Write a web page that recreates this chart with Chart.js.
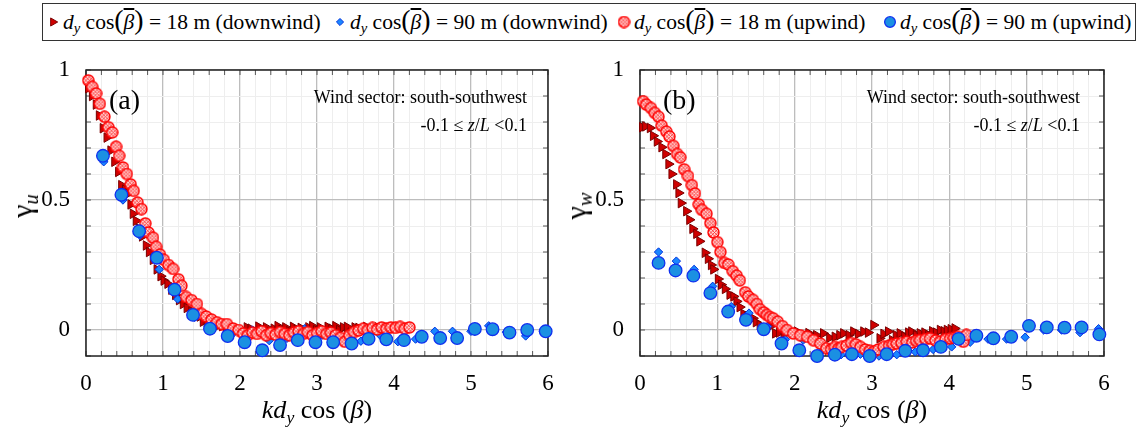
<!DOCTYPE html>
<html>
<head>
<meta charset="utf-8">
<script src="https://cdn.jsdelivr.net/npm/chart.js@4.4.1/dist/chart.umd.min.js"></script>
<style>
  html, body { margin: 0; padding: 0; background: #fff; }
  body {
    width: 1147px; height: 430px; position: relative; overflow: hidden;
    font-family: 'Times New Roman', 'Liberation Serif', Times, 'DejaVu Serif', serif; color: #000;
  }
  .panel { position: absolute; top: 50px; width: 560px; height: 350px; }
  .legend {
    position: absolute; left: 42px; top: 3px; width: 1094px; height: 38px;
    border: 1px solid #333; box-sizing: border-box; font-size: 21.5px;
  }
  .item { position: absolute; top: 0; height: 36px; display: flex; align-items: center; white-space: nowrap; }
  .item canvas { margin-right: 3px; }
  sub { font-size: 0.68em; vertical-align: -0.3em; line-height: 0; }
  .bp { font-size: 1.3em; line-height: 0; }
  .ov { text-decoration: overline; }
  .ytitle { position: absolute; font-size: 30px; transform: translate(-50%, -50%) rotate(-90deg); white-space: nowrap; }
  .xtitle { position: absolute; font-size: 26px; transform: translate(-50%, -50%); white-space: nowrap; }
  .tag { position: absolute; font-size: 28px; line-height: 1; }
  .note { position: absolute; font-size: 18px; text-align: right; white-space: nowrap; line-height: 1; }
</style>
</head>
<body>
<div class="legend">
  <div class="item" style="left:3px"><canvas class="mk" data-kind="down18" width="14" height="14"></canvas><span><i>d</i><sub><i>y</i></sub> cos<span class="bp">(</span><i class="ov">β</i><span class="bp">)</span> = 18 m (downwind)</span></div>
  <div class="item" style="left:290px"><canvas class="mk" data-kind="down90" width="14" height="14"></canvas><span><i>d</i><sub><i>y</i></sub> cos<span class="bp">(</span><i class="ov">β</i><span class="bp">)</span> = 90 m (downwind)</span></div>
  <div class="item" style="left:574px"><canvas class="mk" data-kind="up18" width="14" height="14"></canvas><span><i>d</i><sub><i>y</i></sub> cos<span class="bp">(</span><i class="ov">β</i><span class="bp">)</span> = 18 m (upwind)</span></div>
  <div class="item" style="left:840px"><canvas class="mk" data-kind="up90" width="14" height="14"></canvas><span><i>d</i><sub><i>y</i></sub> cos<span class="bp">(</span><i class="ov">β</i><span class="bp">)</span> = 90 m (upwind)</span></div>
</div>

<div class="panel" style="left:0px"><canvas id="chartU" width="560" height="350"></canvas></div>
<div class="panel" style="left:554px"><canvas id="chartW" width="560" height="350"></canvas></div>

<div class="ytitle" style="left:22px; top:206px">γ<sub><i>u</i></sub></div>
<div class="ytitle" style="left:576px; top:206px">γ<sub><i>w</i></sub></div>
<div class="xtitle" style="left:317px; top:410px"><i>kd</i><sub><i>y</i></sub> cos (<i>β</i>)</div>
<div class="xtitle" style="left:872px; top:410px"><i>kd</i><sub><i>y</i></sub> cos (<i>β</i>)</div>

<div class="tag" style="left:109px; top:86px">(a)</div>
<div class="tag" style="left:663px; top:86px">(b)</div>
<div class="note" style="right:620px; top:88px">Wind sector: south-southwest</div>
<div class="note" style="right:620px; top:116px">-0.1 ≤ <i>z</i>/<i>L</i> &lt;0.1</div>
<div class="note" style="right:67px; top:88px">Wind sector: south-southwest</div>
<div class="note" style="right:67px; top:116px">-0.1 ≤ <i>z</i>/<i>L</i> &lt;0.1</div>

<script>
// axis ranges
const xRange = [0, 6];
const yRange = [-0.1, 1];
const xMajor = [0, 1, 2, 3, 4, 5, 6];
const yMajor = [0, 0.5, 1];

// panel (a): gamma_u, points are [k dy cos(beta), gamma]
const uDown18 = [[0.03,0.93],[0.08,0.90],[0.13,0.867],[0.17,0.825],[0.22,0.776],[0.27,0.74],[0.32,0.69],[0.37,0.647],[0.42,0.608],[0.46,0.557],[0.51,0.54],[0.55,0.525],[0.58,0.483],[0.61,0.447],[0.65,0.42],[0.69,0.39],[0.73,0.36],[0.78,0.325],[0.82,0.30],[0.87,0.27],[0.92,0.233],[0.97,0.207],[1.01,0.19],[1.06,0.178],[1.11,0.155],[1.16,0.135],[1.21,0.115],[1.26,0.10],[1.31,0.085],[1.37,0.071],[1.42,0.06],[1.48,0.052],[1.52,0.032],[1.57,0.03],[1.62,0.025],[1.67,0.02],[1.72,0.018],[1.77,0.015],[1.82,0.012],[1.87,0.01],[1.91,0.013],[1.96,0.0],[2.04,-0.006],[2.09,0.01],[2.14,0.005],[2.19,-0.005],[2.24,0.013],[2.29,0.0],[2.34,0.01],[2.39,-0.01],[2.44,0.005],[2.49,0.015],[2.54,0.0],[2.59,0.01],[2.64,-0.005],[2.69,0.012],[2.74,0.0],[2.79,0.008],[2.84,-0.01],[2.89,0.01],[2.94,0.015],[2.99,0.0],[3.04,0.01],[3.09,-0.005],[3.14,0.012],[3.19,0.005],[3.24,0.015],[3.29,0.0],[3.34,0.01],[3.39,0.012],[3.44,-0.01],[3.49,0.01],[3.54,0.008],[3.59,0.0],[3.64,0.012],[3.69,0.005],[3.74,-0.005],[3.79,0.01]];
const uDown90 = [[0.23,0.647],[0.48,0.50],[0.70,0.364],[0.95,0.233],[1.19,0.119],[1.41,0.049],[1.65,0.01],[1.89,-0.019],[2.16,0.0],[2.38,-0.041],[2.61,-0.032],[2.84,0.005],[3.07,-0.019],[3.30,-0.026],[3.57,-0.043],[3.82,-0.02],[4.05,-0.045],[4.28,-0.035],[4.53,-0.005],[4.76,-0.005],[5.0,-0.005],[5.23,0.016],[5.46,-0.008],[5.71,-0.023],[5.94,-0.005]];
const uUp18 = [[0.03,0.96],[0.08,0.935],[0.13,0.91],[0.18,0.87],[0.24,0.82],[0.29,0.78],[0.34,0.76],[0.39,0.705],[0.43,0.67],[0.48,0.625],[0.53,0.60],[0.58,0.56],[0.62,0.535],[0.67,0.49],[0.72,0.465],[0.77,0.41],[0.81,0.375],[0.87,0.355],[0.91,0.32],[0.96,0.29],[1.01,0.27],[1.07,0.25],[1.13,0.235],[1.20,0.195],[1.24,0.17],[1.30,0.127],[1.37,0.115],[1.44,0.10],[1.50,0.062],[1.56,0.052],[1.63,0.04],[1.70,0.03],[1.76,0.023],[1.83,0.023],[1.91,0.006],[1.98,0.0],[2.04,-0.013],[2.10,-0.02],[2.16,-0.01],[2.22,-0.015],[2.28,-0.005],[2.34,-0.02],[2.40,-0.012],[2.46,-0.018],[2.52,-0.008],[2.58,-0.015],[2.64,-0.02],[2.70,-0.01],[2.76,-0.005],[2.82,-0.015],[2.88,-0.008],[2.94,-0.02],[3.00,-0.012],[3.06,-0.005],[3.12,-0.015],[3.18,-0.01],[3.24,-0.02],[3.30,-0.03],[3.36,-0.045],[3.42,-0.02],[3.48,-0.008],[3.54,-0.002],[3.60,0.005],[3.66,0.0],[3.72,0.008],[3.78,0.002],[3.84,0.01],[3.90,0.005],[3.96,0.01],[4.02,0.008],[4.08,0.012],[4.14,0.005],[4.20,0.01]];
const uUp90 = [[0.22,0.67],[0.46,0.52],[0.69,0.38],[0.92,0.278],[1.15,0.155],[1.39,0.058],[1.61,0.005],[1.84,-0.023],[2.06,-0.047],[2.29,-0.078],[2.52,-0.058],[2.75,-0.039],[2.98,-0.047],[3.21,-0.047],[3.45,-0.052],[3.67,-0.034],[3.90,-0.036],[4.13,-0.039],[4.36,-0.026],[4.60,-0.031],[4.82,-0.031],[5.05,0.004],[5.28,0.003],[5.50,-0.01],[5.73,0.0],[5.97,-0.005]];

// panel (b): gamma_w
const wDown18 = [[0.03,0.78],[0.07,0.783],[0.13,0.777],[0.17,0.747],[0.22,0.725],[0.28,0.703],[0.33,0.677],[0.37,0.638],[0.41,0.60],[0.47,0.56],[0.50,0.527],[0.53,0.488],[0.60,0.457],[0.64,0.424],[0.68,0.389],[0.73,0.37],[0.77,0.341],[0.84,0.297],[0.88,0.274],[0.92,0.25],[0.95,0.233],[1.01,0.196],[1.05,0.174],[1.10,0.158],[1.16,0.136],[1.21,0.129],[1.25,0.11],[1.29,0.088],[1.34,0.062],[1.39,0.054],[1.46,0.045],[1.50,0.03],[1.55,0.019],[1.62,0.006],[1.68,0.013],[1.75,-0.013],[1.80,-0.01],[1.86,-0.015],[1.92,-0.005],[1.97,-0.01],[2.03,-0.006],[2.08,-0.015],[2.13,-0.02],[2.18,-0.012],[2.23,-0.025],[2.28,-0.02],[2.37,-0.013],[2.45,-0.03],[2.52,-0.026],[2.58,-0.02],[2.63,-0.013],[2.70,-0.02],[2.76,-0.006],[2.82,-0.015],[2.89,-0.006],[2.95,-0.01],[3.02,0.019],[3.10,-0.032],[3.15,-0.015],[3.21,-0.006],[3.26,-0.039],[3.31,-0.02],[3.36,-0.013],[3.42,-0.025],[3.47,-0.01],[3.51,-0.006],[3.57,-0.02],[3.62,-0.013],[3.68,-0.01],[3.73,-0.019],[3.78,-0.005],[3.83,-0.01],[3.88,0.0],[3.93,-0.005],[3.97,0.0],[4.02,0.003],[4.07,0.006]];
const wDown90 = [[0.24,0.30],[0.47,0.265],[0.70,0.233],[0.94,0.168],[1.18,0.09],[1.41,0.065],[1.65,0.013],[1.88,-0.036],[2.11,-0.039],[2.36,-0.078],[2.60,-0.095],[2.85,-0.093],[3.09,-0.1],[3.32,-0.095],[3.56,-0.084],[3.79,-0.075],[4.03,-0.065],[4.27,-0.047],[4.50,-0.035],[4.74,-0.035],[4.98,-0.028],[5.22,0.0],[5.45,0.0],[5.69,-0.01],[5.93,0.005]];
const wUp18 = [[0.04,0.88],[0.08,0.867],[0.14,0.854],[0.19,0.835],[0.24,0.82],[0.28,0.786],[0.34,0.763],[0.38,0.744],[0.43,0.708],[0.48,0.677],[0.52,0.664],[0.57,0.618],[0.62,0.592],[0.67,0.557],[0.71,0.525],[0.76,0.483],[0.80,0.462],[0.86,0.447],[0.91,0.411],[0.95,0.375],[1.00,0.338],[1.04,0.30],[1.09,0.258],[1.14,0.252],[1.20,0.226],[1.25,0.209],[1.29,0.191],[1.36,0.145],[1.40,0.129],[1.46,0.116],[1.51,0.10],[1.55,0.08],[1.60,0.068],[1.64,0.058],[1.68,0.05],[1.72,0.045],[1.78,0.032],[1.84,0.015],[1.90,0.0],[1.98,-0.013],[2.07,-0.02],[2.16,-0.026],[2.24,-0.039],[2.33,-0.052],[2.41,-0.07],[2.47,-0.075],[2.52,-0.065],[2.57,-0.07],[2.61,-0.065],[2.67,-0.06],[2.73,-0.05],[2.79,-0.055],[2.85,-0.065],[2.91,-0.075],[2.97,-0.08],[3.02,-0.084],[3.08,-0.075],[3.15,-0.065],[3.22,-0.06],[3.27,-0.055],[3.32,-0.052],[3.38,-0.05],[3.45,-0.045],[3.52,-0.048],[3.57,-0.042],[3.62,-0.039],[3.69,-0.035],[3.75,-0.032],[3.82,-0.04],[3.88,-0.045],[3.95,-0.035],[4.01,-0.032],[4.06,-0.03],[4.11,-0.026],[4.18,-0.045],[4.22,-0.019]];
const wUp90 = [[0.24,0.258],[0.46,0.229],[0.69,0.209],[0.91,0.142],[1.14,0.071],[1.37,0.039],[1.60,0.003],[1.83,-0.052],[2.06,-0.078],[2.29,-0.1],[2.52,-0.095],[2.74,-0.093],[2.97,-0.1],[3.19,-0.093],[3.43,-0.08],[3.66,-0.078],[3.89,-0.065],[4.12,-0.034],[4.35,-0.022],[4.57,-0.032],[4.80,-0.026],[5.03,0.016],[5.26,0.01],[5.49,0.009],[5.71,0.01],[5.94,-0.017]];

(function () {
  const FONT = "'Times New Roman', 'Liberation Serif', Times, 'DejaVu Serif', serif";

  function near(a, b) {
    return Math.abs(a - b) < 1e-6;
  }

  function isMajor(value, majors) {
    return majors.some(m => near(value, m));
  }

  // red circle with a cross-hatch, used as a canvas point style
  function hatchedDot(size) {
    const c = document.createElement('canvas');
    c.width = size;
    c.height = size;
    const g = c.getContext('2d');
    const m = size / 2;
    const r = size / 2 - 1;
    g.beginPath();
    g.arc(m, m, r, 0, Math.PI * 2);
    g.fillStyle = '#ffd2d2';
    g.fill();
    g.save();
    g.clip();
    g.strokeStyle = '#ff3030';
    g.lineWidth = 0.8;
    for (let k = -size; k < size * 2; k += 3.5) {
      g.beginPath(); g.moveTo(k, 0); g.lineTo(k + size, size); g.stroke();
      g.beginPath(); g.moveTo(k, size); g.lineTo(k + size, 0); g.stroke();
    }
    g.restore();
    g.beginPath();
    g.arc(m, m, r, 0, Math.PI * 2);
    g.strokeStyle = '#ff0000';
    g.lineWidth = 1.4;
    g.stroke();
    return c;
  }

  const dot = hatchedDot(13);

  const styles = {
    down18: { pointStyle: 'triangle', rotation: 90, radius: 5.5, backgroundColor: '#d00000', borderColor: '#7a0000', borderWidth: 1 },
    down90: { pointStyle: 'rectRot', rotation: 0, radius: 4.2, backgroundColor: '#1a86ff', borderColor: '#0033dd', borderWidth: 1 },
    up18: { pointStyle: dot, rotation: 0, radius: 6, backgroundColor: '#ff8080', borderColor: '#ff0000', borderWidth: 1 },
    up90: { pointStyle: 'circle', rotation: 0, radius: 6.3, backgroundColor: '#1b90e2', borderColor: '#1030f0', borderWidth: 1.3 }
  };

  function dataset(points, kind, order) {
    const s = styles[kind];
    return {
      data: points.map(p => ({ x: p[0], y: p[1] })),
      pointStyle: s.pointStyle,
      pointRotation: s.rotation,
      pointRadius: s.radius,
      pointBackgroundColor: s.backgroundColor,
      pointBorderColor: s.borderColor,
      pointBorderWidth: s.borderWidth,
      showLine: false,
      clip: false,
      order
    };
  }

  // box round the plot area plus short inward ticks, as in the original figure
  const framePlugin = {
    id: 'frame',
    beforeDatasetsDraw(chart) {
      const { ctx, chartArea: a, scales } = chart;
      ctx.save();
      ctx.strokeStyle = '#555';
      ctx.lineWidth = 1;
      scales.x.ticks.forEach(t => {
        const px = scales.x.getPixelForValue(t.value);
        ctx.beginPath();
        ctx.moveTo(px, a.bottom); ctx.lineTo(px, a.bottom - 5);
        ctx.moveTo(px, a.top); ctx.lineTo(px, a.top + 5);
        ctx.stroke();
      });
      scales.y.ticks.forEach(t => {
        const py = scales.y.getPixelForValue(t.value);
        ctx.beginPath();
        ctx.moveTo(a.left, py); ctx.lineTo(a.left + 5, py);
        ctx.moveTo(a.right, py); ctx.lineTo(a.right - 5, py);
        ctx.stroke();
      });
      ctx.strokeStyle = '#222';
      ctx.lineWidth = 1.5;
      ctx.strokeRect(a.left, a.top, a.right - a.left, a.bottom - a.top);
      ctx.restore();
    }
  };

  function makePanel(canvas, series, padRight) {
    return new Chart(canvas, {
      type: 'scatter',
      data: {
        datasets: [
          dataset(series.up90, 'up90', 1),
          dataset(series.up18, 'up18', 2),
          dataset(series.down90, 'down90', 3),
          dataset(series.down18, 'down18', 4)
        ]
      },
      options: {
        responsive: false,
        animation: false,
        layout: { padding: { top: 20, right: padRight, left: 0, bottom: 0 } },
        plugins: { legend: { display: false }, tooltip: { enabled: false } },
        scales: {
          x: {
            type: 'linear',
            min: xRange[0],
            max: xRange[1],
            border: { display: false },
            grid: {
              drawTicks: false,
              color: c => isMajor(c.tick.value, xMajor) ? '#bdbdbd' : '#eeeeee',
              lineWidth: c => isMajor(c.tick.value, xMajor) ? 1.3 : 1
            },
            ticks: {
              stepSize: 0.2,
              autoSkip: false,
              maxRotation: 0,
              padding: 14,
              color: '#000',
              font: { family: FONT, size: 23 },
              callback: v => isMajor(v, xMajor) ? String(Math.round(v)) : ''
            },
            afterFit(s) {
              s.height = 44;
              s.paddingLeft = 0;
              s.paddingRight = 0;
            }
          },
          y: {
            type: 'linear',
            min: yRange[0],
            max: yRange[1],
            border: { display: false },
            grid: {
              drawTicks: false,
              color: c => isMajor(c.tick.value, yMajor) ? '#bdbdbd' : '#eeeeee',
              lineWidth: c => isMajor(c.tick.value, yMajor) ? 1.3 : 1
            },
            ticks: {
              stepSize: 0.1,
              autoSkip: false,
              padding: 16,
              color: '#000',
              font: { family: FONT, size: 23 },
              callback: v => {
                if (near(v, 0)) return '0';
                if (near(v, 0.5)) return '0.5';
                if (near(v, 1)) return '1';
                return '';
              }
            },
            afterFit(s) {
              s.width = 86;
              s.paddingTop = 0;
              s.paddingBottom = 0;
            }
          }
        }
      },
      plugins: [framePlugin]
    });
  }

  function drawLegendMarkers() {
    document.querySelectorAll('canvas.mk').forEach(c => {
      const s = styles[c.dataset.kind];
      const g = c.getContext('2d');
      g.fillStyle = s.backgroundColor;
      g.strokeStyle = s.borderColor;
      g.lineWidth = s.borderWidth;
      Chart.helpers.drawPoint(g, {
        pointStyle: s.pointStyle,
        rotation: s.rotation,
        radius: s.radius * 0.85,
        borderWidth: s.borderWidth
      }, 7, 7);
    });
  }

  makePanel(document.getElementById('chartU'), { down18: uDown18, down90: uDown90, up18: uUp18, up90: uUp90 }, 12);
  makePanel(document.getElementById('chartW'), { down18: wDown18, down90: wDown90, up18: wUp18, up90: wUp90 }, 10);
  drawLegendMarkers();
})();
</script>
</body>
</html>
